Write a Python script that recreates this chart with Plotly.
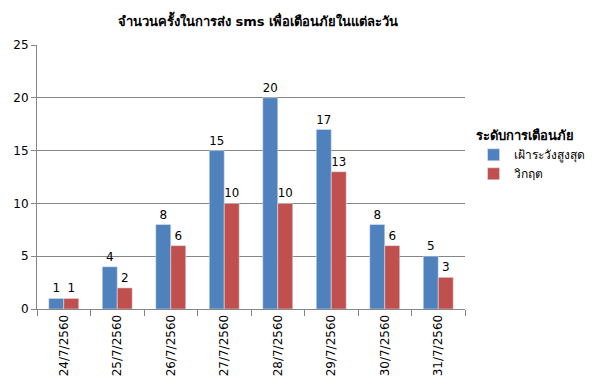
import plotly.graph_objects as go

categories = ["24/7/2560", "25/7/2560", "26/7/2560", "27/7/2560",
              "28/7/2560", "29/7/2560", "30/7/2560", "31/7/2560"]
watch_values = [1, 4, 8, 15, 20, 17, 8, 5]
critical_values = [1, 2, 6, 10, 10, 13, 6, 3]
series_names = ["เฝ้าระวังสูงสุด", "วิกฤต"]

font_family = "Tahoma, DejaVu Sans, Noto Sans, sans-serif"

fig = go.Figure()
fig.add_trace(go.Bar(x=categories, y=watch_values, name=series_names[0],
                     marker_color="#4F81BD", text=watch_values,
                     textposition="outside", cliponaxis=False,
                     textfont=dict(size=12, color="black")))
fig.add_trace(go.Bar(x=categories, y=critical_values, name=series_names[1],
                     marker_color="#C0504D", text=critical_values,
                     textposition="outside", cliponaxis=False,
                     textfont=dict(size=12, color="black")))

fig.update_layout(
    width=593, height=387,
    margin=dict(l=37, r=128, t=45, b=78, autoexpand=False),
    paper_bgcolor="white", plot_bgcolor="white",
    font=dict(family=font_family, size=12, color="black"),
    title=dict(text="<b>จำนวนครั้งในการส่ง sms เพื่อเตือนภัยในแต่ละวัน</b>",
               x=0.435, xanchor="center", y=0.945, yanchor="middle",
               font=dict(size=13)),
    barmode="group", bargap=0.44, bargroupgap=0,
    showlegend=True,
    legend=dict(title=dict(text="<b>ระดับการเตือนภัย</b>", font=dict(size=13)),
                x=1.02, xanchor="left", y=0.58, yanchor="middle",
                font=dict(size=12), tracegroupgap=6, itemwidth=30,
                borderwidth=0),
)
fig.update_xaxes(type="category", tickangle=-90, showline=True,
                 linecolor="#868686", ticks="outside", ticklen=6,
                 tickcolor="#868686", tickson="boundaries",
                 tickfont=dict(size=12))
fig.update_yaxes(range=[0, 25], dtick=5, showgrid=True, gridcolor="#868686",
                 showline=True, linecolor="#868686", ticks="outside",
                 ticklen=5, tickcolor="#868686", zeroline=False,
                 tickfont=dict(size=12))

fig.write_html("out.html")
